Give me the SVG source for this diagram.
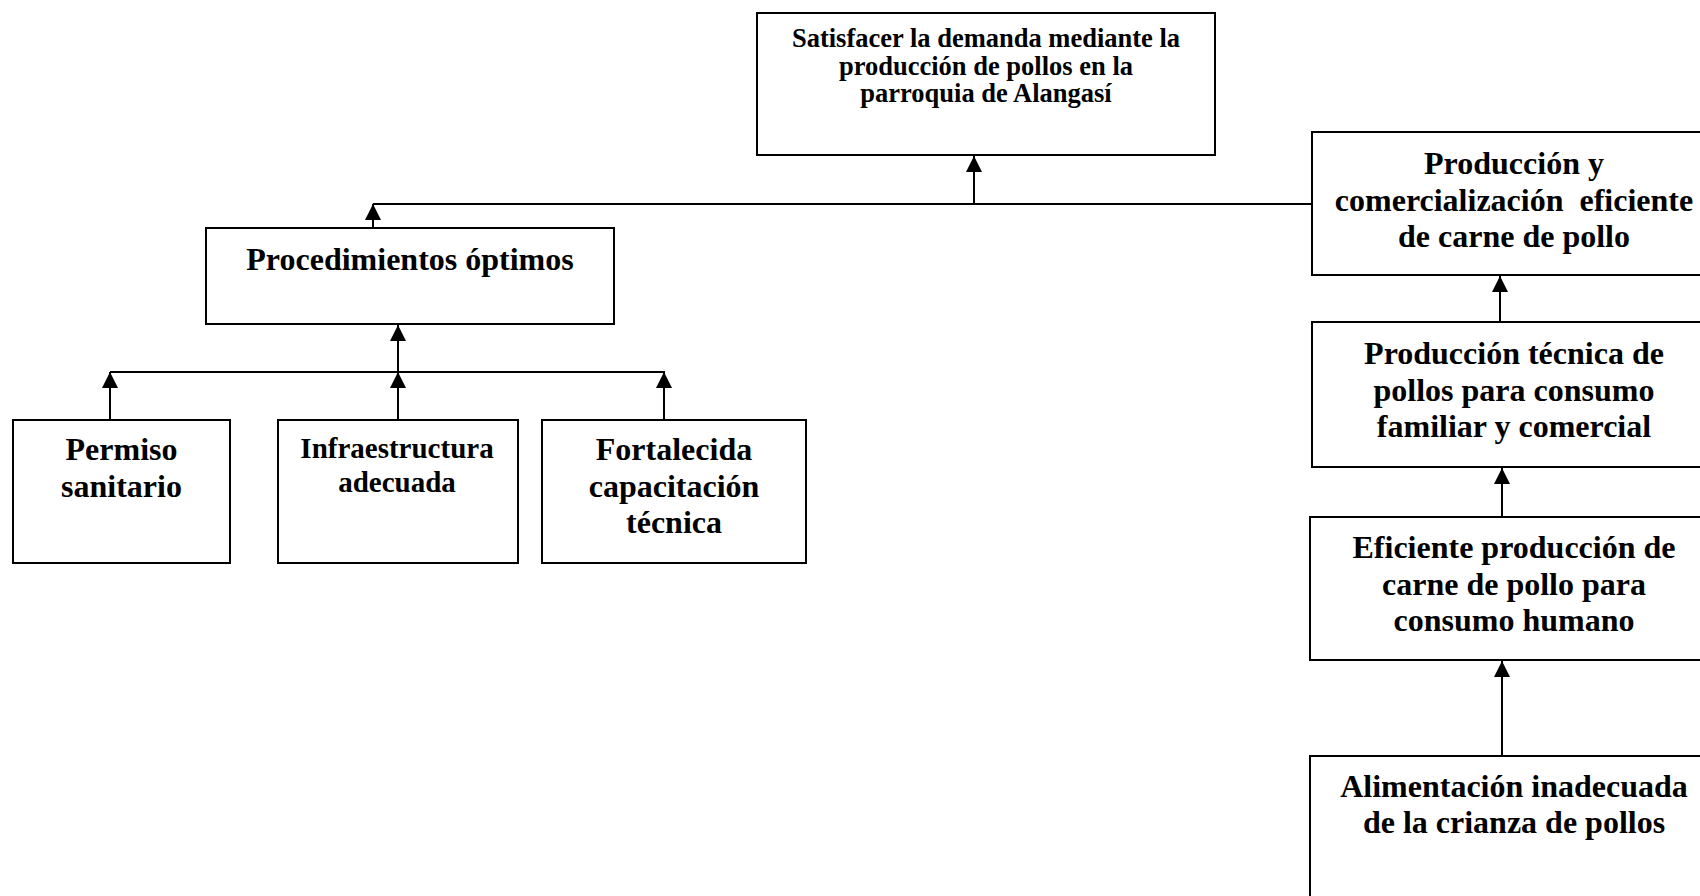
<svg xmlns="http://www.w3.org/2000/svg" width="1700" height="896" viewBox="0 0 1700 896">
<style>
.box{fill:#fff;stroke:#000;stroke-width:2}
.t{font-family:"Liberation Serif","Times New Roman",serif;font-weight:bold;fill:#000;text-anchor:middle;white-space:pre}
.t32{font-size:32px}
.t29{font-size:29px}
.t26{font-size:26.5px}
.c{fill:none;stroke:#000;stroke-width:2}
</style>
<defs>
<marker id="ah" viewBox="0 0 16 16" refX="16" refY="8" markerWidth="16" markerHeight="16" markerUnits="userSpaceOnUse" orient="auto">
<path d="M0,0 L16,8 L0,16 Z" fill="#000"/>
</marker>
</defs>
<rect width="1700" height="896" fill="#fff"/>
<g id="connectors">
<line class="c" x1="974" y1="204" x2="974" y2="156" marker-end="url(#ah)"/>
<line class="c" x1="373" y1="204" x2="1312" y2="204"/>
<line class="c" x1="373" y1="228" x2="373" y2="204" marker-end="url(#ah)"/>
<line class="c" x1="398" y1="372" x2="398" y2="325" marker-end="url(#ah)"/>
<line class="c" x1="110" y1="372" x2="665" y2="372"/>
<line class="c" x1="110" y1="420" x2="110" y2="372" marker-end="url(#ah)"/>
<line class="c" x1="398" y1="420" x2="398" y2="372" marker-end="url(#ah)"/>
<line class="c" x1="664" y1="420" x2="664" y2="372" marker-end="url(#ah)"/>
<line class="c" x1="1500" y1="322" x2="1500" y2="276" marker-end="url(#ah)"/>
<line class="c" x1="1502" y1="517" x2="1502" y2="468" marker-end="url(#ah)"/>
<line class="c" x1="1502" y1="756" x2="1502" y2="661" marker-end="url(#ah)"/>
</g>
<g id="n-satisfacer">
<rect class="box" x="757" y="13" width="458" height="142"/>
<text class="t t26" x="986" y="47">Satisfacer la demanda mediante la</text>
<text class="t t26" x="986" y="74.5">producción de pollos en la</text>
<text class="t t26" x="986" y="102">parroquia de Alangasí</text>
</g>
<g id="n-procedimientos">
<rect class="box" x="206" y="228" width="408" height="96"/>
<text class="t t32" x="410" y="270">Procedimientos óptimos</text>
</g>
<g id="n-permiso">
<rect class="box" x="13" y="420" width="217" height="143"/>
<text class="t t32" x="121.5" y="460">Permiso</text>
<text class="t t32" x="121.5" y="497">sanitario</text>
</g>
<g id="n-infraestructura">
<rect class="box" x="278" y="420" width="240" height="143"/>
<text class="t t29" x="397" y="458">Infraestructura</text>
<text class="t t29" x="397" y="492">adecuada</text>
</g>
<g id="n-fortalecida">
<rect class="box" x="542" y="420" width="264" height="143"/>
<text class="t t32" x="674" y="460">Fortalecida</text>
<text class="t t32" x="674" y="497">capacitación</text>
<text class="t t32" x="674" y="533">técnica</text>
</g>
<g id="n-comercializacion">
<rect class="box" x="1312" y="132" width="405" height="143"/>
<text class="t t32" x="1514" y="174">Producción y</text>
<text class="t t32" x="1514" y="210.5">comercialización  eficiente</text>
<text class="t t32" x="1514" y="247">de carne de pollo</text>
</g>
<g id="n-tecnica">
<rect class="box" x="1312" y="322" width="405" height="145"/>
<text class="t t32" x="1514" y="364">Producción técnica de</text>
<text class="t t32" x="1514" y="400.5">pollos para consumo</text>
<text class="t t32" x="1514" y="437">familiar y comercial</text>
</g>
<g id="n-eficiente">
<rect class="box" x="1310" y="517" width="407" height="143"/>
<text class="t t32" x="1514" y="558">Eficiente producción de</text>
<text class="t t32" x="1514" y="594.5">carne de pollo para</text>
<text class="t t32" x="1514" y="631">consumo humano</text>
</g>
<g id="n-alimentacion">
<rect class="box" x="1310" y="756" width="407" height="160"/>
<text class="t t32" x="1514" y="797">Alimentación inadecuada</text>
<text class="t t32" x="1514" y="833">de la crianza de pollos</text>
</g>
</svg>
